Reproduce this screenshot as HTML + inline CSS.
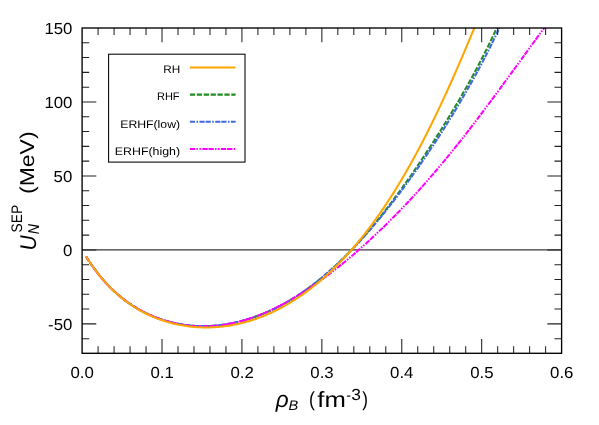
<!DOCTYPE html>
<html><head><meta charset="utf-8"><title>chart</title>
<style>html,body{margin:0;padding:0;background:#fff;}body{width:599px;height:425px;overflow:hidden;font-family:"Liberation Sans",sans-serif;}</style>
</head><body>
<svg width="599" height="425" viewBox="0 0 599 425" style="display:block;will-change:transform" text-rendering="geometricPrecision">
<rect width="599" height="425" fill="#fff"/>
<defs><clipPath id="c"><rect x="82.1" y="28.0" width="479.5" height="325.3"/></clipPath></defs>
<line x1="82.1" y1="249.9" x2="561.6" y2="249.9" stroke="#000" stroke-width="0.98"/>
<g clip-path="url(#c)" fill="none" stroke-width="2.05" stroke-linejoin="round">
<path d="M86.10,256.55 L87.71,259.08 L89.32,261.54 L90.93,263.92 L92.54,266.23 L94.15,268.46 L95.76,270.63 L97.37,272.73 L98.98,274.77 L100.59,276.75 L102.20,278.67 L103.81,280.53 L105.42,282.33 L107.03,284.08 L108.64,285.77 L110.24,287.42 L111.85,289.01 L113.46,290.56 L115.07,292.06 L116.68,293.51 L118.29,294.92 L119.90,296.28 L121.51,297.61 L123.12,298.89 L124.73,300.13 L126.34,301.33 L127.95,302.50 L129.56,303.63 L131.17,304.72 L132.78,305.78 L134.39,306.81 L136.00,307.80 L137.61,308.75 L139.22,309.68 L140.83,310.58 L142.44,311.44 L144.05,312.28 L145.66,313.08 L147.27,313.86 L148.88,314.61 L150.49,315.33 L152.10,316.02 L153.71,316.69 L155.32,317.33 L156.92,317.95 L158.53,318.54 L160.14,319.11 L161.75,319.65 L163.36,320.17 L164.97,320.66 L166.58,321.13 L168.19,321.58 L169.80,322.00 L171.41,322.41 L173.02,322.79 L174.63,323.15 L176.24,323.48 L177.85,323.80 L179.46,324.10 L181.07,324.37 L182.68,324.63 L184.29,324.86 L185.90,325.07 L187.51,325.27 L189.12,325.44 L190.73,325.60 L192.34,325.73 L193.95,325.85 L195.56,325.94 L197.17,326.02 L198.78,326.08 L200.39,326.12 L201.99,326.14 L203.60,326.14 L205.21,326.13 L206.82,326.09 L208.43,326.04 L210.04,325.97 L211.65,325.88 L213.26,325.77 L214.87,325.65 L216.48,325.51 L218.09,325.35 L219.70,325.17 L221.31,324.97 L222.92,324.76 L224.53,324.53 L226.14,324.28 L227.75,324.02 L229.36,323.73 L230.97,323.43 L232.58,323.11 L234.19,322.78 L235.80,322.43 L237.41,322.06 L239.02,321.67 L240.63,321.27 L242.24,320.84 L243.85,320.40 L245.46,319.95 L247.07,319.47 L248.67,318.98 L250.28,318.47 L251.89,317.95 L253.50,317.40 L255.11,316.84 L256.72,316.27 L258.33,315.67 L259.94,315.06 L261.55,314.43 L263.16,313.78 L264.77,313.11 L266.38,312.43 L267.99,311.73 L269.60,311.01 L271.21,310.27 L272.82,309.52 L274.43,308.74 L276.04,307.95 L277.65,307.15 L279.26,306.32 L280.87,305.48 L282.48,304.61 L284.09,303.73 L285.70,302.83 L287.31,301.92 L288.92,300.98 L290.53,300.03 L292.14,299.06 L293.75,298.07 L295.35,297.06 L296.96,296.03 L298.57,294.98 L300.18,293.92 L301.79,292.83 L303.40,291.73 L305.01,290.61 L306.62,289.47 L308.23,288.31 L309.84,287.13 L311.45,285.93 L313.06,284.72 L314.67,283.48 L316.28,282.23 L317.89,280.95 L319.50,279.66 L321.11,278.35 L322.72,277.02 L324.33,275.66 L325.94,274.29 L327.55,272.90 L329.16,271.49 L330.77,270.07 L332.38,268.62 L333.99,267.15 L335.60,265.66 L337.21,264.16 L338.82,262.63 L340.43,261.09 L342.03,259.52 L343.64,257.94 L345.25,256.34 L346.86,254.71 L348.47,253.07 L350.08,251.41 L351.69,249.73 L353.30,248.03 L354.91,246.32 L356.52,244.58 L358.13,242.82 L359.74,241.05 L361.35,239.25 L362.96,237.44 L364.57,235.61 L366.18,233.76 L367.79,231.90 L369.40,230.01 L371.01,228.11 L372.62,226.18 L374.23,224.25 L375.84,222.29 L377.45,220.31 L379.06,218.32 L380.67,216.31 L382.28,214.28 L383.89,212.24 L385.50,210.18 L387.11,208.10 L388.71,206.00 L390.32,203.89 L391.93,201.77 L393.54,199.62 L395.15,197.46 L396.76,195.29 L398.37,193.10 L399.98,190.89 L401.59,188.67 L403.20,186.43 L404.81,184.18 L406.42,181.91 L408.03,179.63 L409.64,177.33 L411.25,175.02 L412.86,172.70 L414.47,170.36 L416.08,168.01 L417.69,165.64 L419.30,163.26 L420.91,160.86 L422.52,158.45 L424.13,156.03 L425.74,153.60 L427.35,151.15 L428.96,148.68 L430.57,146.21 L432.18,143.72 L433.78,141.21 L435.39,138.70 L437.00,136.17 L438.61,133.62 L440.22,131.06 L441.83,128.49 L443.44,125.90 L445.05,123.30 L446.66,120.69 L448.27,118.05 L449.88,115.41 L451.49,112.74 L453.10,110.06 L454.71,107.37 L456.32,104.65 L457.93,101.92 L459.54,99.17 L461.15,96.40 L462.76,93.61 L464.37,90.80 L465.98,87.97 L467.59,85.12 L469.20,82.24 L470.81,79.34 L472.42,76.41 L474.03,73.45 L475.64,70.47 L477.25,67.45 L478.86,64.41 L480.46,61.33 L482.07,58.22 L483.68,55.07 L485.29,51.88 L486.90,48.65 L488.51,45.38 L490.12,42.06 L491.73,38.70 L493.34,35.29 L494.95,31.83 L496.56,28.31 L498.17,24.73 L499.78,21.09 L501.39,17.39 L503.00,13.62" stroke="#228b22" stroke-dasharray="5.25 1.65"/>
<path d="M86.10,256.51 L87.72,259.05 L89.34,261.52 L90.96,263.91 L92.58,266.23 L94.21,268.49 L95.83,270.67 L97.45,272.79 L99.07,274.85 L100.69,276.84 L102.31,278.77 L103.93,280.65 L105.55,282.47 L107.18,284.23 L108.80,285.94 L110.42,287.60 L112.04,289.20 L113.66,290.76 L115.28,292.27 L116.90,293.73 L118.52,295.15 L120.15,296.52 L121.77,297.85 L123.39,299.14 L125.01,300.39 L126.63,301.60 L128.25,302.77 L129.87,303.90 L131.49,304.99 L133.12,306.05 L134.74,307.08 L136.36,308.07 L137.98,309.02 L139.60,309.95 L141.22,310.84 L142.84,311.70 L144.46,312.53 L146.09,313.33 L147.71,314.10 L149.33,314.84 L150.95,315.56 L152.57,316.24 L154.19,316.90 L155.81,317.54 L157.43,318.15 L159.06,318.73 L160.68,319.29 L162.30,319.82 L163.92,320.33 L165.54,320.81 L167.16,321.28 L168.78,321.71 L170.40,322.13 L172.03,322.52 L173.65,322.90 L175.27,323.25 L176.89,323.58 L178.51,323.88 L180.13,324.17 L181.75,324.44 L183.37,324.68 L185.00,324.91 L186.62,325.12 L188.24,325.30 L189.86,325.47 L191.48,325.61 L193.10,325.74 L194.72,325.85 L196.34,325.94 L197.97,326.01 L199.59,326.06 L201.21,326.09 L202.83,326.11 L204.45,326.10 L206.07,326.08 L207.69,326.04 L209.31,325.98 L210.94,325.91 L212.56,325.81 L214.18,325.70 L215.80,325.56 L217.42,325.42 L219.04,325.25 L220.66,325.06 L222.28,324.86 L223.91,324.64 L225.53,324.40 L227.15,324.14 L228.77,323.87 L230.39,323.58 L232.01,323.27 L233.63,322.94 L235.25,322.59 L236.87,322.23 L238.50,321.85 L240.12,321.45 L241.74,321.03 L243.36,320.59 L244.98,320.14 L246.60,319.67 L248.22,319.18 L249.84,318.68 L251.47,318.15 L253.09,317.61 L254.71,317.05 L256.33,316.47 L257.95,315.87 L259.57,315.26 L261.19,314.62 L262.81,313.97 L264.44,313.30 L266.06,312.61 L267.68,311.91 L269.30,311.18 L270.92,310.44 L272.54,309.68 L274.16,308.90 L275.78,308.10 L277.41,307.28 L279.03,306.45 L280.65,305.59 L282.27,304.72 L283.89,303.83 L285.51,302.92 L287.13,301.99 L288.75,301.04 L290.38,300.08 L292.00,299.09 L293.62,298.09 L295.24,297.07 L296.86,296.03 L298.48,294.97 L300.10,293.89 L301.72,292.80 L303.35,291.68 L304.97,290.55 L306.59,289.39 L308.21,288.22 L309.83,287.03 L311.45,285.82 L313.07,284.60 L314.69,283.35 L316.32,282.08 L317.94,280.80 L319.56,279.50 L321.18,278.18 L322.80,276.84 L324.42,275.48 L326.04,274.10 L327.66,272.71 L329.29,271.29 L330.91,269.86 L332.53,268.41 L334.15,266.94 L335.77,265.45 L337.39,263.95 L339.01,262.42 L340.63,260.88 L342.26,259.32 L343.88,257.74 L345.50,256.15 L347.12,254.53 L348.74,252.90 L350.36,251.25 L351.98,249.58 L353.60,247.90 L355.23,246.20 L356.85,244.48 L358.47,242.74 L360.09,240.99 L361.71,239.21 L363.33,237.43 L364.95,235.62 L366.57,233.80 L368.19,231.96 L369.82,230.10 L371.44,228.23 L373.06,226.34 L374.68,224.43 L376.30,222.51 L377.92,220.57 L379.54,218.62 L381.16,216.64 L382.79,214.66 L384.41,212.65 L386.03,210.64 L387.65,208.60 L389.27,206.55 L390.89,204.49 L392.51,202.41 L394.13,200.31 L395.76,198.20 L397.38,196.07 L399.00,193.93 L400.62,191.77 L402.24,189.60 L403.86,187.41 L405.48,185.21 L407.10,183.00 L408.73,180.76 L410.35,178.52 L411.97,176.26 L413.59,173.98 L415.21,171.69 L416.83,169.39 L418.45,167.07 L420.07,164.74 L421.70,162.39 L423.32,160.03 L424.94,157.65 L426.56,155.26 L428.18,152.85 L429.80,150.43 L431.42,147.99 L433.04,145.54 L434.67,143.07 L436.29,140.59 L437.91,138.09 L439.53,135.58 L441.15,133.05 L442.77,130.50 L444.39,127.94 L446.01,125.36 L447.64,122.76 L449.26,120.15 L450.88,117.52 L452.50,114.87 L454.12,112.21 L455.74,109.52 L457.36,106.82 L458.98,104.09 L460.61,101.35 L462.23,98.59 L463.85,95.80 L465.47,92.99 L467.09,90.17 L468.71,87.31 L470.33,84.44 L471.95,81.54 L473.58,78.61 L475.20,75.66 L476.82,72.68 L478.44,69.67 L480.06,66.64 L481.68,63.57 L483.30,60.48 L484.92,57.35 L486.55,54.19 L488.17,50.99 L489.79,47.76 L491.41,44.49 L493.03,41.18 L494.65,37.84 L496.27,34.45 L497.89,31.01 L499.52,27.54 L501.14,24.01 L502.76,20.44 L504.38,16.81 L506.00,13.14" stroke="#4169e1" stroke-dasharray="5.2 0.9 5.2 1.4 1.6 1.4" stroke-dashoffset="6.1"/>
<path d="M86.10,256.64 L87.89,259.48 L89.68,262.22 L91.47,264.86 L93.26,267.41 L95.06,269.86 L96.85,272.22 L98.64,274.50 L100.43,276.70 L102.22,278.83 L104.01,280.88 L105.80,282.85 L107.59,284.76 L109.38,286.60 L111.18,288.38 L112.97,290.10 L114.76,291.76 L116.55,293.36 L118.34,294.91 L120.13,296.40 L121.92,297.85 L123.71,299.24 L125.50,300.59 L127.30,301.89 L129.09,303.14 L130.88,304.36 L132.67,305.53 L134.46,306.66 L136.25,307.75 L138.04,308.80 L139.83,309.81 L141.62,310.79 L143.42,311.73 L145.21,312.64 L147.00,313.51 L148.79,314.35 L150.58,315.16 L152.37,315.94 L154.16,316.68 L155.95,317.40 L157.74,318.08 L159.54,318.73 L161.33,319.36 L163.12,319.96 L164.91,320.52 L166.70,321.06 L168.49,321.57 L170.28,322.06 L172.07,322.51 L173.86,322.94 L175.66,323.35 L177.45,323.72 L179.24,324.07 L181.03,324.40 L182.82,324.70 L184.61,324.97 L186.40,325.22 L188.19,325.44 L189.98,325.64 L191.78,325.81 L193.57,325.96 L195.36,326.08 L197.15,326.18 L198.94,326.25 L200.73,326.30 L202.52,326.32 L204.31,326.32 L206.11,326.30 L207.90,326.25 L209.69,326.18 L211.48,326.08 L213.27,325.96 L215.06,325.82 L216.85,325.65 L218.64,325.46 L220.43,325.25 L222.23,325.01 L224.02,324.75 L225.81,324.46 L227.60,324.16 L229.39,323.83 L231.18,323.48 L232.97,323.10 L234.76,322.71 L236.55,322.29 L238.35,321.85 L240.14,321.38 L241.93,320.90 L243.72,320.39 L245.51,319.86 L247.30,319.31 L249.09,318.74 L250.88,318.15 L252.67,317.53 L254.47,316.90 L256.26,316.24 L258.05,315.56 L259.84,314.87 L261.63,314.15 L263.42,313.42 L265.21,312.66 L267.00,311.88 L268.79,311.09 L270.59,310.27 L272.38,309.44 L274.17,308.58 L275.96,307.71 L277.75,306.82 L279.54,305.91 L281.33,304.99 L283.12,304.04 L284.91,303.08 L286.71,302.10 L288.50,301.10 L290.29,300.09 L292.08,299.05 L293.87,298.00 L295.66,296.94 L297.45,295.86 L299.24,294.76 L301.03,293.64 L302.83,292.51 L304.62,291.36 L306.41,290.20 L308.20,289.02 L309.99,287.83 L311.78,286.62 L313.57,285.40 L315.36,284.16 L317.15,282.91 L318.95,281.64 L320.74,280.36 L322.53,279.06 L324.32,277.75 L326.11,276.42 L327.90,275.09 L329.69,273.73 L331.48,272.37 L333.27,270.99 L335.07,269.59 L336.86,268.19 L338.65,266.77 L340.44,265.34 L342.23,263.89 L344.02,262.43 L345.81,260.96 L347.60,259.47 L349.39,257.98 L351.19,256.47 L352.98,254.94 L354.77,253.41 L356.56,251.86 L358.35,250.30 L360.14,248.73 L361.93,247.14 L363.72,245.54 L365.51,243.93 L367.31,242.31 L369.10,240.67 L370.89,239.03 L372.68,237.37 L374.47,235.69 L376.26,234.01 L378.05,232.31 L379.84,230.60 L381.63,228.88 L383.43,227.15 L385.22,225.40 L387.01,223.65 L388.80,221.88 L390.59,220.09 L392.38,218.30 L394.17,216.49 L395.96,214.67 L397.75,212.84 L399.55,210.99 L401.34,209.13 L403.13,207.26 L404.92,205.38 L406.71,203.49 L408.50,201.58 L410.29,199.66 L412.08,197.73 L413.87,195.78 L415.67,193.83 L417.46,191.86 L419.25,189.87 L421.04,187.88 L422.83,185.87 L424.62,183.85 L426.41,181.82 L428.20,179.77 L429.99,177.71 L431.79,175.64 L433.58,173.56 L435.37,171.47 L437.16,169.36 L438.95,167.24 L440.74,165.11 L442.53,162.96 L444.32,160.81 L446.12,158.64 L447.91,156.46 L449.70,154.27 L451.49,152.07 L453.28,149.85 L455.07,147.63 L456.86,145.39 L458.65,143.14 L460.44,140.88 L462.24,138.61 L464.03,136.33 L465.82,134.04 L467.61,131.74 L469.40,129.43 L471.19,127.11 L472.98,124.78 L474.77,122.44 L476.56,120.09 L478.36,117.73 L480.15,115.37 L481.94,112.99 L483.73,110.61 L485.52,108.22 L487.31,105.82 L489.10,103.42 L490.89,101.01 L492.68,98.59 L494.48,96.17 L496.27,93.74 L498.06,91.30 L499.85,88.86 L501.64,86.42 L503.43,83.97 L505.22,81.51 L507.01,79.06 L508.80,76.60 L510.60,74.13 L512.39,71.67 L514.18,69.20 L515.97,66.73 L517.76,64.26 L519.55,61.79 L521.34,59.32 L523.13,56.84 L524.92,54.37 L526.72,51.90 L528.51,49.43 L530.30,46.96 L532.09,44.50 L533.88,42.03 L535.67,39.57 L537.46,37.11 L539.25,34.65 L541.04,32.20 L542.84,29.74 L544.63,27.30 L546.42,24.85 L548.21,22.42 L550.00,19.98" stroke="#ff00ff" stroke-dasharray="5.3 0.9 5.3 1.3 1.5 1.4 1.5 1.4" stroke-dashoffset="6.2"/>
<path d="M86.10,256.54 L87.62,258.94 L89.14,261.27 L90.66,263.53 L92.18,265.73 L93.70,267.86 L95.23,269.94 L96.75,271.95 L98.27,273.91 L99.79,275.81 L101.31,277.66 L102.83,279.46 L104.35,281.20 L105.87,282.89 L107.39,284.54 L108.91,286.14 L110.43,287.69 L111.95,289.20 L113.48,290.67 L115.00,292.10 L116.52,293.48 L118.04,294.82 L119.56,296.13 L121.08,297.40 L122.60,298.63 L124.12,299.82 L125.64,300.98 L127.16,302.11 L128.68,303.20 L130.20,304.26 L131.73,305.29 L133.25,306.29 L134.77,307.26 L136.29,308.20 L137.81,309.11 L139.33,310.00 L140.85,310.85 L142.37,311.68 L143.89,312.49 L145.41,313.26 L146.93,314.02 L148.45,314.74 L149.98,315.45 L151.50,316.13 L153.02,316.78 L154.54,317.42 L156.06,318.03 L157.58,318.62 L159.10,319.19 L160.62,319.74 L162.14,320.26 L163.66,320.77 L165.18,321.25 L166.71,321.72 L168.23,322.16 L169.75,322.59 L171.27,323.00 L172.79,323.39 L174.31,323.75 L175.83,324.10 L177.35,324.44 L178.87,324.75 L180.39,325.05 L181.91,325.33 L183.43,325.59 L184.96,325.83 L186.48,326.05 L188.00,326.26 L189.52,326.45 L191.04,326.63 L192.56,326.79 L194.08,326.93 L195.60,327.05 L197.12,327.16 L198.64,327.25 L200.16,327.32 L201.68,327.38 L203.21,327.42 L204.73,327.45 L206.25,327.46 L207.77,327.45 L209.29,327.42 L210.81,327.38 L212.33,327.33 L213.85,327.26 L215.37,327.17 L216.89,327.06 L218.41,326.94 L219.93,326.81 L221.46,326.65 L222.98,326.49 L224.50,326.30 L226.02,326.10 L227.54,325.88 L229.06,325.65 L230.58,325.40 L232.10,325.14 L233.62,324.86 L235.14,324.56 L236.66,324.25 L238.18,323.92 L239.71,323.57 L241.23,323.21 L242.75,322.83 L244.27,322.44 L245.79,322.03 L247.31,321.60 L248.83,321.16 L250.35,320.70 L251.87,320.22 L253.39,319.73 L254.91,319.22 L256.44,318.69 L257.96,318.15 L259.48,317.59 L261.00,317.01 L262.52,316.42 L264.04,315.81 L265.56,315.18 L267.08,314.54 L268.60,313.88 L270.12,313.20 L271.64,312.51 L273.16,311.80 L274.69,311.07 L276.21,310.32 L277.73,309.56 L279.25,308.77 L280.77,307.98 L282.29,307.16 L283.81,306.32 L285.33,305.47 L286.85,304.60 L288.37,303.72 L289.89,302.81 L291.41,301.89 L292.94,300.94 L294.46,299.98 L295.98,299.01 L297.50,298.01 L299.02,296.99 L300.54,295.96 L302.06,294.91 L303.58,293.84 L305.10,292.75 L306.62,291.64 L308.14,290.51 L309.66,289.36 L311.19,288.20 L312.71,287.01 L314.23,285.80 L315.75,284.58 L317.27,283.34 L318.79,282.07 L320.31,280.79 L321.83,279.48 L323.35,278.16 L324.87,276.81 L326.39,275.45 L327.92,274.06 L329.44,272.66 L330.96,271.23 L332.48,269.78 L334.00,268.31 L335.52,266.82 L337.04,265.31 L338.56,263.78 L340.08,262.22 L341.60,260.65 L343.12,259.05 L344.64,257.43 L346.17,255.79 L347.69,254.12 L349.21,252.43 L350.73,250.73 L352.25,248.99 L353.77,247.24 L355.29,245.46 L356.81,243.66 L358.33,241.83 L359.85,239.99 L361.37,238.11 L362.89,236.22 L364.42,234.30 L365.94,232.36 L367.46,230.39 L368.98,228.40 L370.50,226.38 L372.02,224.34 L373.54,222.27 L375.06,220.18 L376.58,218.07 L378.10,215.93 L379.62,213.76 L381.14,211.57 L382.67,209.35 L384.19,207.11 L385.71,204.84 L387.23,202.54 L388.75,200.22 L390.27,197.88 L391.79,195.50 L393.31,193.10 L394.83,190.68 L396.35,188.22 L397.87,185.74 L399.39,183.24 L400.92,180.70 L402.44,178.14 L403.96,175.56 L405.48,172.94 L407.00,170.30 L408.52,167.63 L410.04,164.94 L411.56,162.21 L413.08,159.46 L414.60,156.69 L416.12,153.88 L417.65,151.05 L419.17,148.19 L420.69,145.31 L422.21,142.40 L423.73,139.46 L425.25,136.49 L426.77,133.50 L428.29,130.48 L429.81,127.43 L431.33,124.36 L432.85,121.26 L434.37,118.14 L435.90,114.99 L437.42,111.82 L438.94,108.62 L440.46,105.39 L441.98,102.14 L443.50,98.87 L445.02,95.57 L446.54,92.25 L448.06,88.90 L449.58,85.54 L451.10,82.15 L452.62,78.74 L454.15,75.30 L455.67,71.85 L457.19,68.37 L458.71,64.88 L460.23,61.37 L461.75,57.84 L463.27,54.29 L464.79,50.72 L466.31,47.14 L467.83,43.54 L469.35,39.93 L470.87,36.30 L472.40,32.66 L473.92,29.01 L475.44,25.35 L476.96,21.68 L478.48,18.00 L480.00,14.31" stroke="#ffa500"/>
</g>
<path d="M98.08,353.3v-7.1M98.08,28.0v7.1M114.07,353.3v-7.1M114.07,28.0v7.1M130.05,353.3v-7.1M130.05,28.0v7.1M146.03,353.3v-7.1M146.03,28.0v7.1M162.02,353.3v-14.2M162.02,28.0v14.2M178.00,353.3v-7.1M178.00,28.0v7.1M193.98,353.3v-7.1M193.98,28.0v7.1M209.97,353.3v-7.1M209.97,28.0v7.1M225.95,353.3v-7.1M225.95,28.0v7.1M241.93,353.3v-14.2M241.93,28.0v14.2M257.92,353.3v-7.1M257.92,28.0v7.1M273.90,353.3v-7.1M273.90,28.0v7.1M289.88,353.3v-7.1M289.88,28.0v7.1M305.87,353.3v-7.1M305.87,28.0v7.1M321.85,353.3v-14.2M321.85,28.0v14.2M337.83,353.3v-7.1M337.83,28.0v7.1M353.82,353.3v-7.1M353.82,28.0v7.1M369.80,353.3v-7.1M369.80,28.0v7.1M385.78,353.3v-7.1M385.78,28.0v7.1M401.77,353.3v-14.2M401.77,28.0v14.2M417.75,353.3v-7.1M417.75,28.0v7.1M433.73,353.3v-7.1M433.73,28.0v7.1M449.72,353.3v-7.1M449.72,28.0v7.1M465.70,353.3v-7.1M465.70,28.0v7.1M481.68,353.3v-14.2M481.68,28.0v14.2M497.67,353.3v-7.1M497.67,28.0v7.1M513.65,353.3v-7.1M513.65,28.0v7.1M529.63,353.3v-7.1M529.63,28.0v7.1M545.62,353.3v-7.1M545.62,28.0v7.1M82.1,338.66h7.1M561.6,338.66h-7.1M82.1,323.87h14.2M561.6,323.87h-14.2M82.1,309.07h7.1M561.6,309.07h-7.1M82.1,294.28h7.1M561.6,294.28h-7.1M82.1,279.49h7.1M561.6,279.49h-7.1M82.1,264.69h7.1M561.6,264.69h-7.1M82.1,249.90h14.2M561.6,249.90h-14.2M82.1,235.11h7.1M561.6,235.11h-7.1M82.1,220.31h7.1M561.6,220.31h-7.1M82.1,205.52h7.1M561.6,205.52h-7.1M82.1,190.73h7.1M561.6,190.73h-7.1M82.1,175.93h14.2M561.6,175.93h-14.2M82.1,161.14h7.1M561.6,161.14h-7.1M82.1,146.35h7.1M561.6,146.35h-7.1M82.1,131.55h7.1M561.6,131.55h-7.1M82.1,116.76h7.1M561.6,116.76h-7.1M82.1,101.97h14.2M561.6,101.97h-14.2M82.1,87.17h7.1M561.6,87.17h-7.1M82.1,72.38h7.1M561.6,72.38h-7.1M82.1,57.59h7.1M561.6,57.59h-7.1M82.1,42.79h7.1M561.6,42.79h-7.1" stroke="#222" stroke-width="1.05" fill="none"/>
<rect x="82.1" y="28.0" width="479.5" height="325.3" fill="none" stroke="#000" stroke-width="1.35"/>
<g font-family="Liberation Sans, sans-serif" font-size="16" fill="#000">
<text transform="translate(70.42,377.6) scale(1.05,1)">0.0</text>
<text transform="translate(150.47,377.6) scale(1.05,1)">0.1</text>
<text transform="translate(230.38,377.6) scale(1.05,1)">0.2</text>
<text transform="translate(310.30,377.6) scale(1.05,1)">0.3</text>
<text transform="translate(390.09,377.6) scale(1.05,1)">0.4</text>
<text transform="translate(470.13,377.6) scale(1.05,1)">0.5</text>
<text transform="translate(550.05,377.6) scale(1.05,1)">0.6</text>
<text transform="translate(44.40,33.85) scale(1.05,1)">150</text>
<text transform="translate(44.40,107.82) scale(1.05,1)">100</text>
<text transform="translate(53.59,181.78) scale(1.05,1)">50</text>
<text transform="translate(63.04,255.75) scale(1.05,1)">0</text>
<text transform="translate(48.08,329.72) scale(1.05,1)">-50</text>
</g>
<rect x="108.6" y="54.2" width="136.4" height="107.9" fill="#fff" stroke="#000" stroke-width="1.05"/>
<g font-family="Liberation Sans, sans-serif" font-size="11" fill="#000">
<text transform="translate(163.15,73.20) scale(1.07,1)">RH</text>
<line x1="189.9" y1="67.4" x2="235.6" y2="67.4" stroke="#ffa500" stroke-width="2.05"/>
<text transform="translate(156.95,100.40) scale(1.0,1)">RHF</text>
<line x1="189.9" y1="94.6" x2="235.6" y2="94.6" stroke="#228b22" stroke-width="2.05" stroke-dasharray="5.25 1.65" stroke-dashoffset="0"/>
<text transform="translate(120.21,127.60) scale(1.113,1)">ERHF(low)</text>
<line x1="189.9" y1="121.8" x2="235.6" y2="121.8" stroke="#4169e1" stroke-width="2.05" stroke-dasharray="5.2 0.9 5.2 1.4 1.6 1.4" stroke-dashoffset="6.1"/>
<text transform="translate(114.79,154.80) scale(1.125,1)">ERHF(high)</text>
<line x1="189.9" y1="149.0" x2="235.6" y2="149.0" stroke="#ff00ff" stroke-width="2.05" stroke-dasharray="5.3 0.9 5.3 1.3 1.5 1.4 1.5 1.4" stroke-dashoffset="6.2"/>
</g>
<g font-family="Liberation Sans, sans-serif" fill="#000">
<text transform="translate(275.84,407.29) scale(1.071,1.079)" font-size="21" font-style="italic">ρ</text>
<text transform="translate(288.55,410.45) scale(0.994,0.937)" font-size="14.7" font-style="italic">B</text>
<text transform="translate(309.1,406.08) scale(0.836,0.972)" font-size="21">(</text>
<text transform="translate(317.24,407.25) scale(1.223,1.049)" font-size="21">fm</text>
<text transform="translate(346.22,399.65) scale(0.971,1.0)" font-size="14.7">-</text>
<text transform="translate(351.36,399.68) scale(1.186,1.095)" font-size="14.7">3</text>
<text transform="translate(362.35,406.08) scale(0.818,0.972)" font-size="21">)</text>
</g>
<g font-family="Liberation Sans, sans-serif" fill="#000" transform="rotate(-90)">
<text transform="translate(-250.56,35.98) scale(1.004,1.085)" font-size="21" font-style="italic">U</text>
<text transform="translate(-234.24,39.25) scale(0.97,1.073)" font-size="14.7" font-style="italic">N</text>
<text transform="translate(-232.45,22.19) scale(0.937,1.038)" font-size="14.7">SEP</text>
<text transform="translate(-194.02,34.34) scale(1.096,0.957)" font-size="21">(MeV)</text>
</g>
</svg>
</body></html>
